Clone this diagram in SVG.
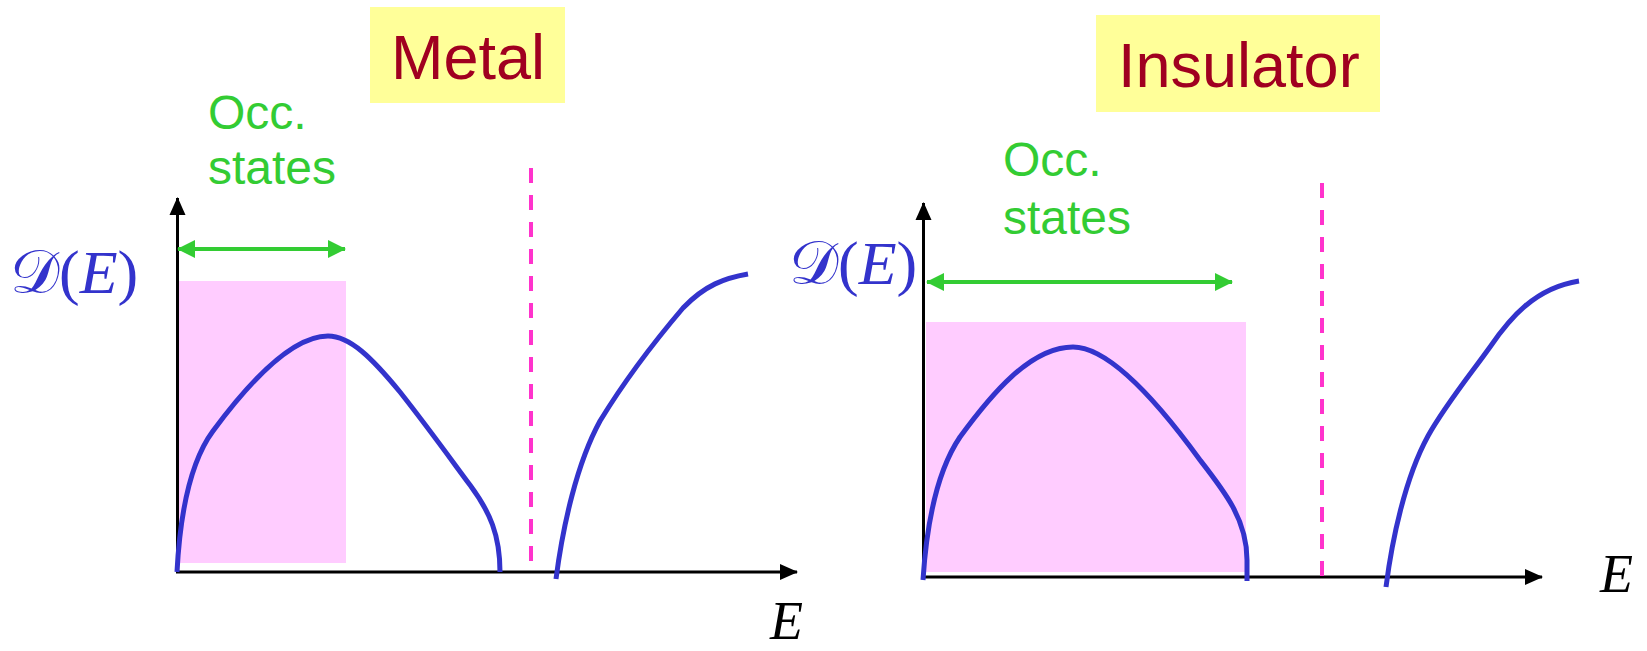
<svg xmlns="http://www.w3.org/2000/svg" width="1647" height="651" viewBox="0 0 1647 651">
<style>
.title{font-family:"Liberation Sans",Arial,sans-serif;font-size:63px;fill:#A00020}
.occ{font-family:"Liberation Sans",Arial,sans-serif;font-size:48px;fill:#33CC33}
.dos{font-family:"Liberation Serif","DejaVu Serif",serif;font-size:62px;fill:#3333CC}
.elab{font-family:"Liberation Serif",serif;font-style:italic;font-size:54px;fill:#000}
.box{fill:#FFFF99}
.occrect{fill:#FFCCFF}
.axis{stroke:#000;stroke-width:3;fill:none}
.green{stroke:#33CC33;stroke-width:4;fill:none}
.curve{stroke:#3333CC;stroke-width:5;fill:none}
.fermi{stroke:#FF33CC;stroke-width:4;stroke-dasharray:15 12;fill:none}
</style>
<defs>
<marker id="ah" markerUnits="userSpaceOnUse" markerWidth="18" markerHeight="18" viewBox="0 0 18 18" refX="17" refY="9" orient="auto">
<path d="M0,1 L18,9 L0,17 Z" fill="#000"/>
</marker>
<marker id="gh" markerUnits="userSpaceOnUse" markerWidth="18" markerHeight="20" viewBox="0 0 18 20" refX="17" refY="10" orient="auto-start-reverse">
<path d="M0,1 L18,10 L0,19 Z" fill="#33CC33"/>
</marker>
</defs>
<g id="metal-panel">
<g id="metal-title"><rect class="box" x="370" y="7" width="195" height="96"/><text class="title" x="391" y="79">Metal</text></g>
<g id="metal-occ-label"><text class="occ" x="208" y="129">Occ.</text><text class="occ" x="208" y="184">states</text></g>
<rect id="metal-occupied" class="occrect" x="179" y="281" width="167" height="282"/>
<g id="metal-dos-label"><text class="dos" x="10" y="293">𝒟(<tspan font-style="italic">E</tspan>)</text></g>
<g id="metal-e-label"><text class="elab" x="770" y="639">E</text></g>
</g>
<g id="insulator-panel">
<g id="insulator-title"><rect class="box" x="1096" y="15" width="284" height="97"/><text class="title" x="1118" y="87">Insulator</text></g>
<g id="insulator-occ-label"><text class="occ" x="1003" y="176">Occ.</text><text class="occ" x="1003" y="234">states</text></g>
<rect id="insulator-occupied" class="occrect" x="926" y="322" width="320" height="250"/>
<g id="insulator-dos-label"><text class="dos" x="789" y="284">𝒟(<tspan font-style="italic">E</tspan>)</text></g>
<g id="insulator-e-label"><text class="elab" x="1600" y="592">E</text></g>
</g>
<g id="connectors">
<line class="axis" x1="177.5" y1="572" x2="177.5" y2="198" marker-end="url(#ah)"/>
<line class="axis" x1="176" y1="572" x2="797" y2="572" marker-end="url(#ah)"/>
<line class="green" x1="178" y1="249" x2="345" y2="249" marker-start="url(#gh)" marker-end="url(#gh)"/>
<path class="curve" d="M177,572 C180,515 190,462 213,431 C250,381 292,336 328,336 C350,336 372,358 400,392 C430,430 455,465 470,485 C490,512 500,535 500,572"/>
<line class="fermi" x1="531" y1="168" x2="531" y2="566"/>
<path class="curve" d="M556,579 C563,525 577,463 600,421 C625,380 660,335 683,308 C705,285 725,278 748,274"/>

<line class="axis" x1="923.5" y1="577" x2="923.5" y2="203" marker-end="url(#ah)"/>
<line class="axis" x1="922" y1="577" x2="1542" y2="577" marker-end="url(#ah)"/>
<line class="green" x1="927" y1="282" x2="1232" y2="282" marker-start="url(#gh)" marker-end="url(#gh)"/>
<path class="curve" d="M923,580 C927,518 939,468 960,437 C990,396 1030,347 1073,347 C1110,347 1160,405 1200,460 C1225,492 1247,520 1247,560 L1247,581"/>
<line class="fermi" x1="1322" y1="183" x2="1322" y2="580"/>
<path class="curve" d="M1386,587 C1392,540 1405,478 1428,436 C1446,404 1470,375 1490,347 C1510,318 1535,288 1579,281"/>
</g>
</svg>
